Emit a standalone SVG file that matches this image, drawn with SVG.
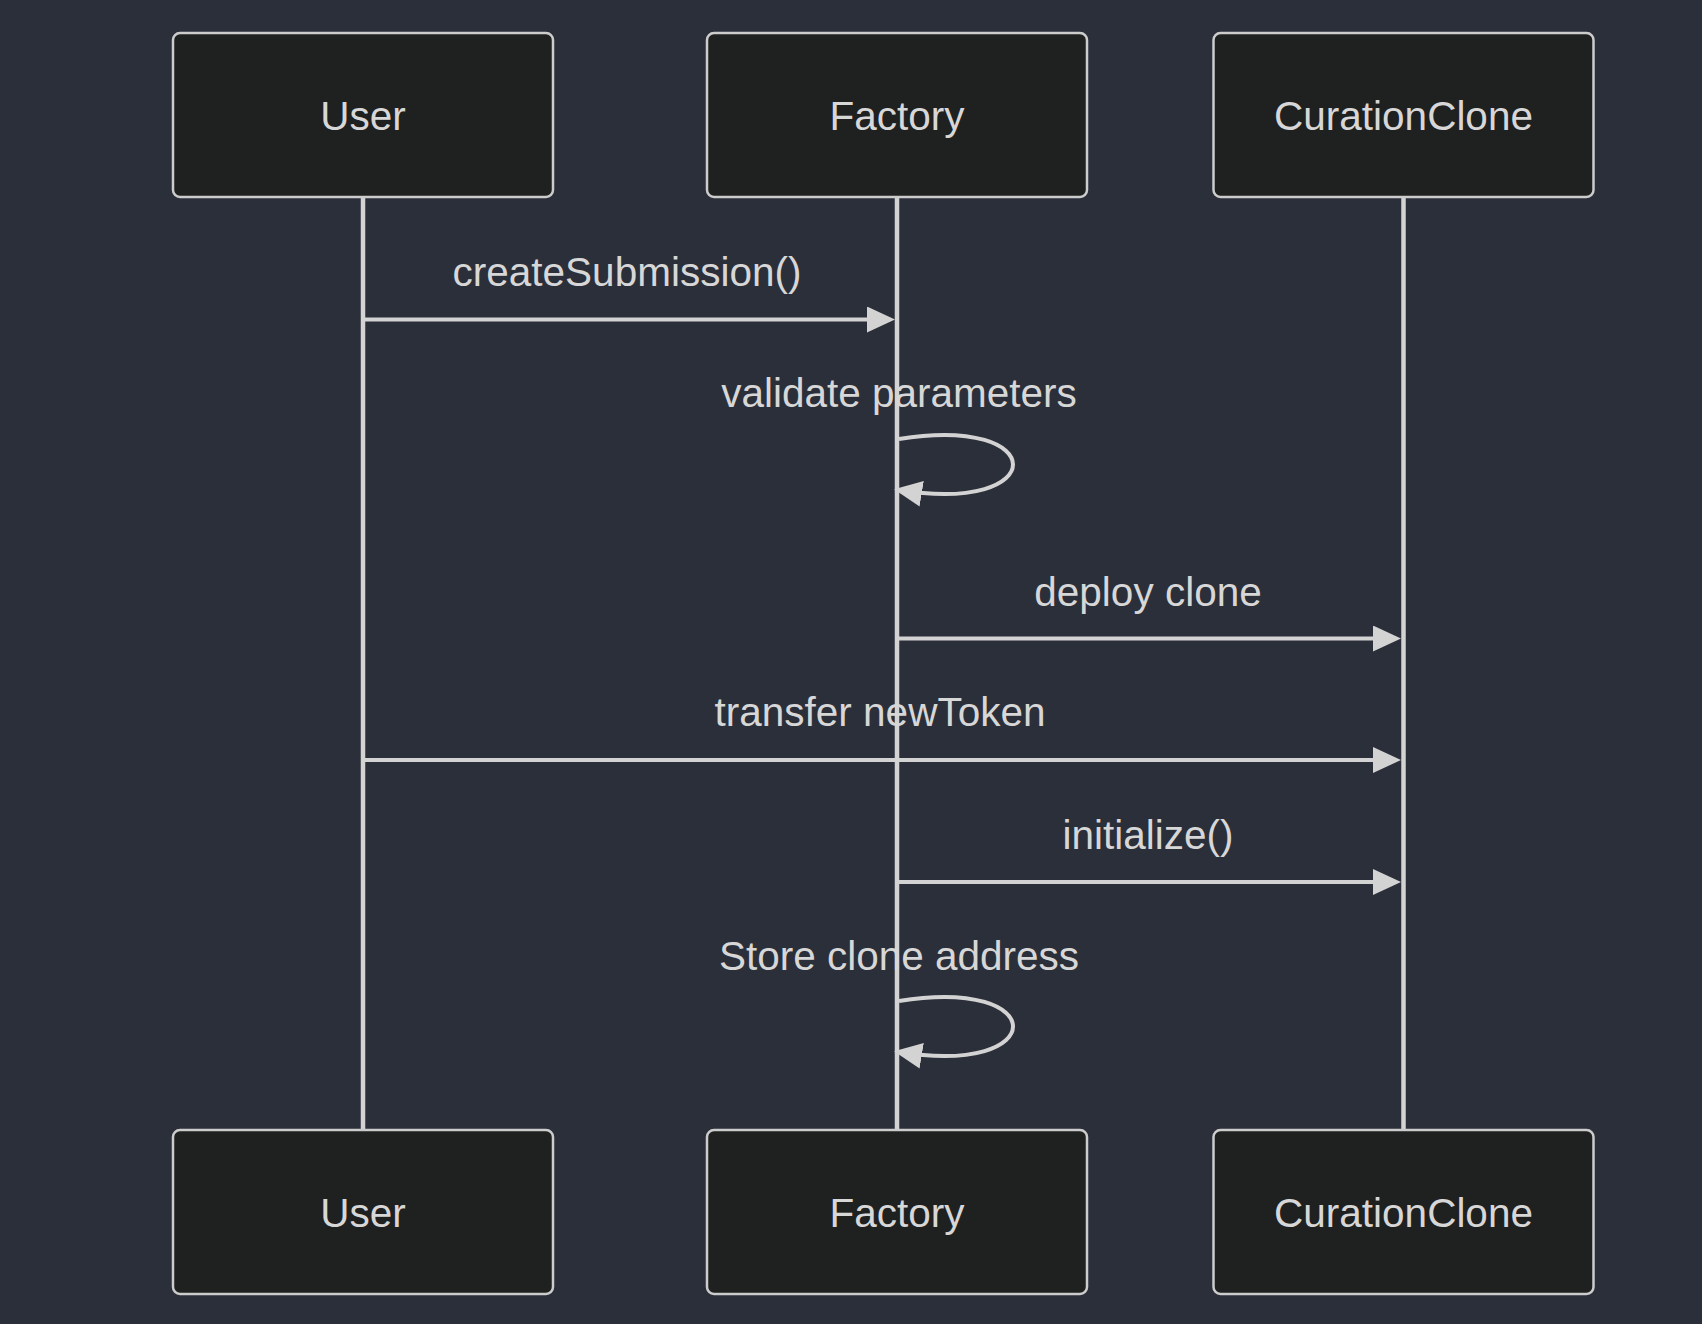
<svg xmlns="http://www.w3.org/2000/svg" width="1702" height="1324" viewBox="0 0 1702 1324">
<style>
.actor{fill:#1f2020;stroke:#cccccc;stroke-width:2.5}
.actor-text{fill:#d7d7d7;font-family:"Liberation Sans",Arial,sans-serif;font-size:40.5px;text-anchor:middle}
.lifeline{stroke:#d3d3d3;stroke-width:4.5;fill:none}
.msg{stroke:#d3d3d3;stroke-width:4;fill:none;marker-end:url(#arrowhead)}
.msg-text{fill:#d7d7d7;font-family:"Liberation Sans",Arial,sans-serif;font-size:40.5px;text-anchor:middle}
</style>
<defs>
<marker id="arrowhead" viewBox="0 0 28 26" markerWidth="28" markerHeight="26" refX="23" refY="13" markerUnits="userSpaceOnUse" orient="auto">
<path d="M0,0 L28,13 L0,26 z" fill="#d3d3d3"/>
</marker>
</defs>
<rect width="1702" height="1324" fill="#2b2f3a"/>
<g id="lifelines">
<line class="lifeline" x1="363" y1="197" x2="363" y2="1130"/>
<line class="lifeline" x1="897" y1="197" x2="897" y2="1130"/>
<line class="lifeline" x1="1403.5" y1="197" x2="1403.5" y2="1130"/>
</g>
<g id="actor-user-top"><rect class="actor" x="173" y="33" width="380" height="164" rx="7"/><text class="actor-text" x="363" y="130">User</text></g>
<g id="actor-factory-top"><rect class="actor" x="707" y="33" width="380" height="164" rx="7"/><text class="actor-text" x="897" y="130">Factory</text></g>
<g id="actor-clone-top"><rect class="actor" x="1213.5" y="33" width="380" height="164" rx="7"/><text class="actor-text" x="1403.5" y="130">CurationClone</text></g>
<g id="actor-user-bottom"><rect class="actor" x="173" y="1130" width="380" height="164" rx="7"/><text class="actor-text" x="363" y="1227">User</text></g>
<g id="actor-factory-bottom"><rect class="actor" x="707" y="1130" width="380" height="164" rx="7"/><text class="actor-text" x="897" y="1227">Factory</text></g>
<g id="actor-clone-bottom"><rect class="actor" x="1213.5" y="1130" width="380" height="164" rx="7"/><text class="actor-text" x="1403.5" y="1227">CurationClone</text></g>
<g id="connectors">
<line class="msg" x1="365" y1="319.5" x2="890" y2="319.5"/>
<text class="msg-text" x="627" y="286">createSubmission()</text>
<path class="msg" d="M899,439 C1051,414 1051,515 899,490"/>
<text class="msg-text" x="899" y="407">validate parameters</text>
<line class="msg" x1="899" y1="638.5" x2="1396" y2="638.5"/>
<text class="msg-text" x="1148" y="606">deploy clone</text>
<line class="msg" x1="365" y1="760" x2="1396" y2="760"/>
<text class="msg-text" x="880" y="726">transfer newToken</text>
<line class="msg" x1="899" y1="882" x2="1396" y2="882"/>
<text class="msg-text" x="1148" y="849">initialize()</text>
<path class="msg" d="M899,1001 C1051,976 1051,1077 899,1052"/>
<text class="msg-text" x="899" y="970">Store clone address</text>
</g>
</svg>
